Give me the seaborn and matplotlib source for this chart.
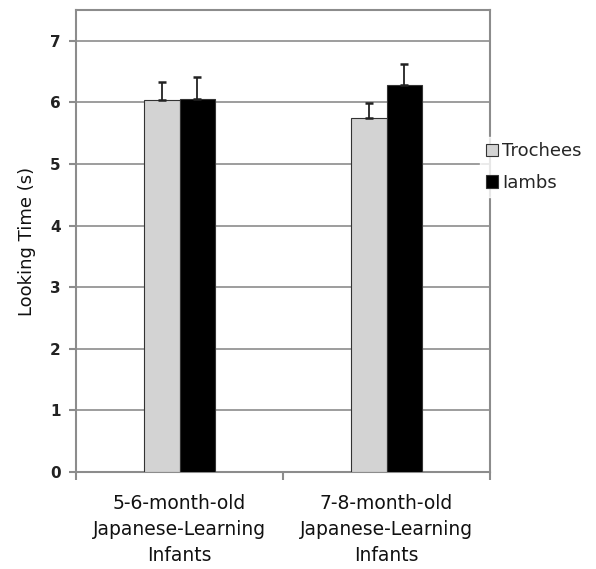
import pandas as pd
import seaborn as sns
import matplotlib.pyplot as plt

groups = ["5-6-month-old\nJapanese-Learning\nInfants", "7-8-month-old\nJapanese-Learning\nInfants"]
conditions = ["Trochees", "Iambs"]
trochees = [6.04, 5.75]
iambs = [6.05, 6.28]
trochees_err = [0.29, 0.24]
iambs_err = [0.37, 0.34]

data = pd.DataFrame({
    "group": groups * 2,
    "condition": [conditions[0]] * 2 + [conditions[1]] * 2,
    "time": trochees + iambs,
    "err": trochees_err + iambs_err,
})

sns.set_style("white")
plt.rcParams['font.family'] = ['DejaVu Sans']

fig = plt.figure(figsize=(5.96, 5.69), dpi=100)
ax = fig.add_axes([76 / 596, 97 / 569, 414 / 596, 462 / 569])

sns.barplot(data=data, x="group", y="time", hue="condition", order=groups,
            hue_order=conditions, palette=["#d3d3d3", "#000000"], width=0.34,
            edgecolor="#333333", linewidth=0.8, errorbar=None, ax=ax, zorder=3)

# error bars (upper only) from bar positions
for bar_patch, (_, row) in zip(ax.patches, data.iterrows()):
    xc = bar_patch.get_x() + bar_patch.get_width() / 2
    ax.errorbar(xc, row["time"], yerr=[[0], [row["err"]]], fmt="none",
                ecolor="#222222", elinewidth=1.3, capsize=3, capthick=1.8, zorder=4)

ax.set_ylim(0, 7.5)
ax.set_xlim(-0.5, 1.5)
ax.set_yticks(range(8))
ax.set_yticklabels([str(i) for i in range(8)], fontsize=11, fontweight="bold", color="#222222")
ax.yaxis.grid(True, color="#8c8c8c", linewidth=1.2, zorder=0)
ax.set_axisbelow(True)

for s in ax.spines.values():
    s.set_color("#8c8c8c")
    s.set_linewidth(1.5)

ax.tick_params(axis="y", left=True, length=5, width=1.5, color="#8c8c8c", pad=6)
ax.set_xticks([-0.5, 0.5, 1.5], minor=False)
ax.set_xticklabels(["", "", ""])
ax.set_xticks([0, 1], minor=True)
ax.set_xticklabels(groups, minor=True, fontsize=13.5, color="#111111", linespacing=1.45)
ax.tick_params(axis="x", which="minor", bottom=False, pad=14)
ax.tick_params(axis="x", which="major", bottom=True, length=6, width=1.5, color="#8c8c8c")
ax.set_xlabel("")
ax.set_ylabel("Looking Time (s)", fontsize=13, labelpad=10, color="#111111")

handles, labels = ax.get_legend_handles_labels()
leg = ax.legend(handles, labels, loc="center left", bbox_to_anchor=(0.955, 0.66),
                frameon=True, fontsize=13, handlelength=0.7, handleheight=0.7,
                handletextpad=0.2, labelspacing=0.75, borderpad=0.3)
leg.get_frame().set_facecolor("white")
leg.get_frame().set_edgecolor("white")
leg.set_zorder(10)

fig.savefig("out.png", dpi=100)
